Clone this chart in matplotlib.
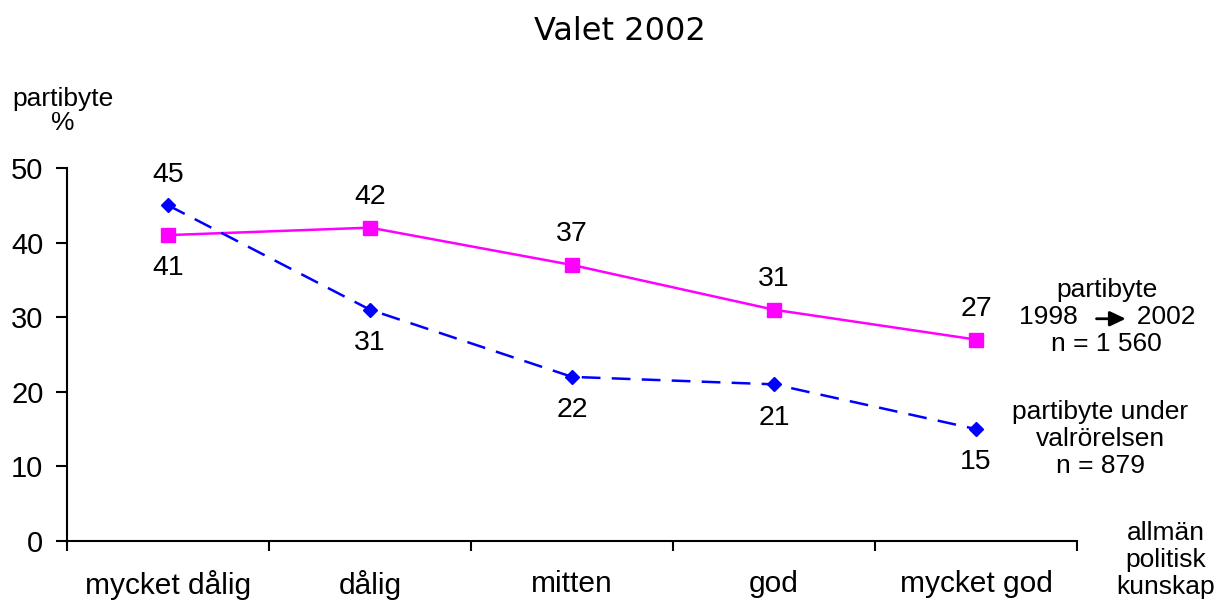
"""Valet 2002: partibyte efter allmän politisk kunskap."""

import matplotlib
matplotlib.use("Agg")
import matplotlib.pyplot as plt

plt.rcParams['font.family'] = ['Liberation Sans', 'DejaVu Sans']

categories = ['mycket dålig', 'dålig', 'mitten', 'god', 'mycket god']
byte_98_02 = [41, 42, 37, 31, 27]      # partibyte 1998 -> 2002
byte_valrorelsen = [45, 31, 22, 21, 15]  # partibyte under valrörelsen

PINK = '#FF00FF'
BLUE = '#0000FF'

fig = plt.figure(figsize=(12.19, 6.02), dpi=100)
ax = fig.add_axes([0.055, 0.1013, 0.8285, 0.6197])

x = list(range(len(categories)))
ax.plot(x, byte_98_02, color=PINK, linewidth=1.8, marker='s', markersize=9.5,
        markeredgecolor=PINK, markerfacecolor=PINK)
ax.plot(x, byte_valrorelsen, color=BLUE, linewidth=1.8, linestyle=(0, (7.5, 4.5)),
        marker='D', markersize=7.5, markeredgecolor=BLUE, markerfacecolor=BLUE)

# värdeetiketter: rosa ovanför utom första, blå nedanför utom första
for i, (p, b) in enumerate(zip(byte_98_02, byte_valrorelsen)):
    p_off = -24 if i == 0 else 22
    b_off = 22 if i == 0 else -24
    ax.annotate(str(p), (i, p), xytext=(0, p_off), textcoords='offset points',
                ha='center', va='center', fontsize=20.5)
    ax.annotate(str(b), (i, b), xytext=(0, b_off), textcoords='offset points',
                ha='center', va='center', fontsize=20.5)

ax.set_xlim(-0.5, 4.5)
ax.set_ylim(0, 50)
ax.set_yticks(range(0, 51, 10))
ax.set_xticks([i - 0.5 for i in range(len(categories) + 1)])
ax.set_xticklabels([])
ax.set_xticks(x, minor=True)
ax.set_xticklabels(categories, minor=True, fontsize=21.5)
ax.tick_params(axis='x', which='minor', length=0, pad=21)
ax.tick_params(axis='x', which='major', direction='out', length=7, width=1.5)
ax.tick_params(axis='y', direction='out', length=8, width=1.5, labelsize=21, pad=9)
for side in ['top', 'right']:
    ax.spines[side].set_visible(False)
for side in ['left', 'bottom']:
    ax.spines[side].set_linewidth(1.5)

fig.text(0.5085, 0.9485, 'Valet 2002', ha='center', va='center', fontsize=23,
         family=['DejaVu Sans'])
fig.text(0.0517, 0.8156, 'partibyte\n%', ha='center', va='center', fontsize=19,
         linespacing=1.0)

# förklaringar till höger; pilen ritas separat
fig.text(0.908, 0.4734, 'partibyte\n1998' + ' ' * 8 + '2002\nn = 1 560',
         ha='center', va='center', fontsize=19, linespacing=1.15)
ax.annotate('', xy=(0.9235, 0.4705), xytext=(0.8995, 0.4705),
            xycoords='figure fraction', annotation_clip=False,
            arrowprops=dict(arrowstyle='-|>,head_length=0.95,head_width=0.45',
                            color='black', lw=2, shrinkA=0, shrinkB=0))
fig.text(0.9024, 0.2708, 'partibyte under\nvalrörelsen\nn = 879', ha='center',
         va='center', fontsize=19, linespacing=1.15)
fig.text(0.9565, 0.0698, 'allmän\npolitisk\nkunskap', ha='center', va='center',
         fontsize=19, linespacing=1.15)

plt.savefig('out.png', dpi=100)
